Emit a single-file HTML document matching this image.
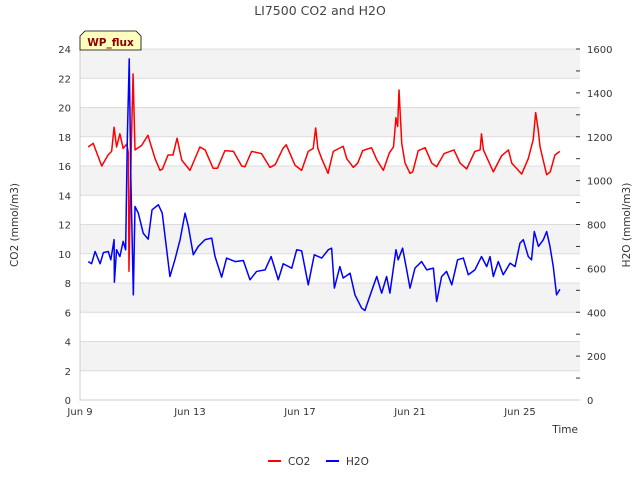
<!DOCTYPE html>
<html><head><meta charset="utf-8"><style>
body{margin:0;background:#fff;}
svg text{font-family:"DejaVu Sans","Liberation Sans",sans-serif;}
</style></head><body>
<svg id="chart" width="640" height="480" xmlns="http://www.w3.org/2000/svg">
<g id="bands"></g>
<g id="grid"></g>
<g id="axes"></g>
<g id="series"></g>
<text x="320" y="15" text-anchor="middle" font-size="12.5" fill="#444">LI7500 CO2 and H2O</text>
<path d="M80,50 L80,36 L85,31 L136,31 L141,36 L141,50 Z" fill="#ffffc0" stroke="#000" stroke-width="0.8"/>
<text x="110.5" y="46" text-anchor="middle" font-size="10.5" font-weight="bold" fill="#8b0000">WP_flux</text>
<text transform="translate(18,225) rotate(-90)" text-anchor="middle" font-size="10.5" fill="#333">CO2 (mmol/m3)</text>
<text transform="translate(630,225) rotate(-90)" text-anchor="middle" font-size="10.5" fill="#333">H2O (mmol/m3)</text>
<text x="578" y="433" text-anchor="end" font-size="10.5" fill="#333">Time</text>
<g>
<line x1="268" y1="461" x2="281" y2="461" stroke="#f00" stroke-width="2"/>
<text x="288" y="465" font-size="10.5" fill="#333">CO2</text>
<line x1="326" y1="461" x2="339" y2="461" stroke="#00f" stroke-width="2"/>
<text x="346" y="465" font-size="10.5" fill="#333">H2O</text>
</g>
</svg>
<script>
const co2Days=[0.30,0.48,0.79,1.02,1.15,1.24,1.33,1.45,1.57,1.70,1.76,1.78,1.86,1.93,2.0,2.24,2.47,2.73,2.91,3.0,3.2,3.38,3.53,3.70,4.0,4.36,4.55,4.84,5.0,5.27,5.58,5.88,6.0,6.24,6.6,6.91,7.1,7.38,7.5,7.82,8.06,8.3,8.48,8.57,8.65,8.79,9.02,9.21,9.57,9.7,9.94,10.1,10.28,10.6,10.8,11.03,11.25,11.4,11.49,11.55,11.6,11.66,11.7,11.82,12.0,12.1,12.3,12.55,12.79,12.97,13.24,13.6,13.82,14.06,14.36,14.55,14.6,14.67,15.03,15.33,15.58,15.7,16.06,16.3,16.48,16.57,16.66,16.73,16.97,17.1,17.27,17.45];
const co2Values=[17.3,17.55,16.0,16.75,17.0,18.65,17.3,18.2,17.2,17.5,16.9,8.8,17.0,22.3,17.1,17.4,18.1,16.5,15.7,15.8,16.75,16.75,17.9,16.4,15.7,17.3,17.1,15.85,15.85,17.05,17.0,16.0,15.95,17.0,16.85,15.9,16.1,17.2,17.45,16.05,15.7,17.0,17.2,18.6,17.2,16.5,15.5,17.0,17.35,16.5,15.9,16.2,17.05,17.25,16.4,15.7,16.9,17.3,19.3,18.7,21.2,19.0,17.55,16.2,15.5,15.6,17.05,17.25,16.2,15.95,16.85,17.1,16.2,15.8,17.0,17.1,18.2,17.1,15.6,16.7,17.1,16.2,15.45,16.5,17.8,19.65,18.5,17.3,15.4,15.6,16.75,17.0];
const h2oDays=[0.30,0.42,0.55,0.73,0.85,1.03,1.12,1.24,1.25,1.33,1.45,1.57,1.66,1.72,1.79,1.85,1.94,2.0,2.12,2.3,2.48,2.62,2.85,2.99,3.27,3.45,3.64,3.82,3.94,4.12,4.3,4.55,4.79,4.91,5.15,5.33,5.64,5.94,6.18,6.42,6.73,6.95,7.21,7.39,7.7,7.88,8.06,8.3,8.52,8.79,9.03,9.15,9.25,9.45,9.57,9.82,10.0,10.24,10.36,10.6,10.79,10.97,11.15,11.27,11.49,11.57,11.73,11.88,12.0,12.18,12.42,12.61,12.85,12.97,13.15,13.33,13.52,13.73,13.94,14.12,14.36,14.6,14.79,14.91,15.03,15.21,15.39,15.64,15.82,16.0,16.12,16.3,16.42,16.52,16.67,16.85,16.97,17.09,17.21,17.33,17.45];
const h2oValues=[631,621,677,621,672,677,639,731,537,685,654,723,685,1187,1555,1005,479,882,852,760,733,867,890,852,563,639,731,852,791,662,700,731,738,654,560,647,631,636,548,586,593,654,548,621,601,685,680,525,662,647,685,692,510,608,556,578,479,419,408,495,563,487,563,487,685,639,692,593,510,601,631,593,601,449,563,586,525,639,647,571,593,654,608,654,563,631,571,624,608,715,731,654,639,768,700,731,768,700,608,479,505];
const co2Ticks=[0,2,4,6,8,10,12,14,16,18,20,22,24];
const h2oTicks=[0,200,400,600,800,1000,1200,1400,1600];
const xTickDays=[0,4,8,12,16];
const xTickLabels=["Jun 9","Jun 13","Jun 17","Jun 21","Jun 25"];
const L=80,R=580,T=49,B=400;
const xS=d=>L+d*27.5;
const yC=v=>B-(v/24)*(B-T);
const yH=v=>B-(v/1600)*(B-T);
const NS="http://www.w3.org/2000/svg";
function mk(parent,tag,attrs){const e=document.createElementNS(NS,tag);for(const k in attrs)e.setAttribute(k,attrs[k]);document.getElementById(parent).appendChild(e);return e;}
for(let i=0;i<co2Ticks.length-1;i++){
 if(i%2===1){const r=mk('bands','rect',{x:L,y:yC(co2Ticks[i+1]),width:R-L,height:yC(co2Ticks[i])-yC(co2Ticks[i+1]),fill:'#f3f3f3'});
 
 }
}
co2Ticks.forEach(v=>{
 const g=mk('grid','line',{x1:L,x2:R,y1:yC(v),y2:yC(v),stroke:'#dcdcdc','stroke-width':1});
 
 
 const t=mk('axes','text',{x:71,y:yC(v)+4,'text-anchor':'end','font-size':10,fill:'#333'});
 t.textContent=v;
 
 
});
h2oTicks.forEach(v=>{
 const t=mk('axes','text',{x:587,y:yH(v)+4,'font-size':10,fill:'#333'});
 t.textContent=v;
 
 
});
for(let v=0;v<=1600;v+=100){
 const m=mk('axes','line',{x1:R-4,x2:R,y1:yH(v),y2:yH(v),stroke:'#333','stroke-width':1});
 
 
}
xTickDays.forEach((d,i)=>{
 const t=mk('axes','text',{x:xS(d),y:415,'text-anchor':'middle','font-size':10,fill:'#333'});
 t.textContent=xTickLabels[i];
 
 
});
const ax=mk('axes','path',{d:`M${L},${T} L${L},${B} L${R},${B}`,fill:'none',stroke:'#ccc','stroke-width':1});


const pc=mk('series','polyline',{points:co2Days.map((d,i)=>xS(d)+','+yC(co2Values[i])).join(' '),fill:'none',stroke:'#f00','stroke-width':1.5,'stroke-linejoin':'round'});


const ph=mk('series','polyline',{points:h2oDays.map((d,i)=>xS(d)+','+yH(h2oValues[i])).join(' '),fill:'none',stroke:'#00f','stroke-width':1.5,'stroke-linejoin':'round'});


</script>
</body></html>
